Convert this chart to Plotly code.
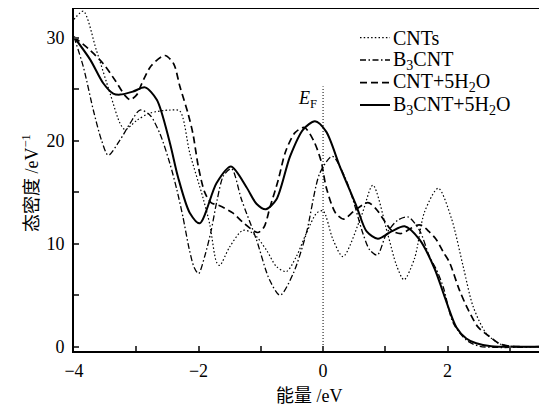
import plotly.graph_objects as go

# ---- data ----
cnts_x = [-4.0, -3.85, -3.64, -3.42, -3.26, -3.18, -2.99, -2.78, -2.46, -2.3, -2.14, -1.93, -1.82,
          -1.71, -1.66, -1.5, -1.29, -1.12, -0.91, -0.75, -0.59, -0.43, -0.27, -0.1, 0.0, 0.16,
          0.32, 0.62, 0.8, 1.04, 1.18, 1.3, 1.47, 1.63, 1.85, 2.06, 2.25, 2.41, 2.62, 2.83, 3.0, 3.5]
cnts_y = [31.8, 32.6, 28.8, 24.6, 21.7, 21.1, 22.0, 22.7, 23.0, 22.9, 18.8, 14.5, 11.9,
          8.2, 7.9, 9.7, 11.3, 11.0, 9.4, 7.8, 7.3, 8.75, 11.0, 13.0, 13.2, 10.4,
          8.75, 12.8, 15.7, 10.9, 7.9, 6.5, 8.6, 13.1, 15.4, 12.5, 7.8, 3.9, 1.3, 0.3, 0.05, 0.0]

b3_x = [-4.0, -3.85, -3.69, -3.56, -3.45, -3.26, -3.10, -2.94, -2.78, -2.62, -2.46, -2.35, -2.25,
        -2.15, -2.07, -2.0, -1.9, -1.8, -1.7, -1.6, -1.47, -1.31, -1.07, -0.86, -0.69, -0.48,
        -0.27, -0.05, 0.15, 0.35, 0.48, 0.64, 0.75, 0.87, 1.02, 1.2, 1.37, 1.55, 1.71, 1.82,
        1.93, 2.09, 2.3, 2.51, 3.5]
b3_y = [30.1, 27.2, 23.0, 20.1, 18.6, 20.1, 21.7, 23.0, 22.5, 20.7, 17.8, 15.3, 12.6,
        9.5, 7.7, 7.1, 8.8, 11.2, 14.3, 16.6, 17.3, 14.3, 10.4, 6.5, 5.0, 7.1,
        11.0, 16.9, 18.5, 16.5, 14.3, 11.0, 9.4, 8.9, 11.0, 12.3, 12.6, 11.3, 8.75, 7.5,
        5.8, 2.3, 0.65, 0.05, 0.0]

cw_x = [-4.0, -3.74, -3.53, -3.33, -3.18, -3.1, -2.99, -2.91, -2.76, -2.54, -2.4, -2.3, -2.17,
        -2.09, -2.0, -1.9, -1.8, -1.66, -1.45, -1.29, -1.05, -0.95, -0.85, -0.72, -0.6, -0.45,
        -0.3, -0.15, -0.03, 0.05, 0.2, 0.33, 0.5, 0.72, 0.85, 1.0, 1.1, 1.25, 1.5, 1.58, 1.7,
        1.82, 1.93, 2.03, 2.19, 2.33, 2.49, 2.67, 2.83, 3.0, 3.5]
cw_y = [30.1, 28.8, 27.5, 25.8, 24.4, 24.0, 24.5, 25.6, 27.3, 28.3, 27.5, 25.3, 22.7,
        20.7, 17.4, 15.0, 14.0, 13.7, 13.0, 12.1, 11.1, 11.6, 13.6, 16.2, 19.0, 20.8,
        21.3, 20.0, 18.0, 15.5, 13.0, 12.4, 13.2, 14.0, 13.4, 12.1, 11.3, 11.0, 11.8, 11.8, 11.2,
        10.4, 9.2, 8.2, 5.5, 3.6, 1.9, 1.0, 0.3, 0.05, 0.0]

bw_x = [-4.0, -3.74, -3.53, -3.37, -3.26, -3.05, -2.86, -2.67, -2.46, -2.33, -2.14, -1.98, -1.71,
        -1.48, -1.23, -1.07, -0.92, -0.75, -0.53, -0.32, -0.13, 0.05, 0.27, 0.54, 0.7, 0.88,
        1.1, 1.31, 1.55, 1.79, 1.95, 2.14, 2.3, 2.46, 2.7, 3.5]
bw_y = [30.1, 27.9, 25.6, 24.6, 24.5, 24.8, 25.2, 24.0, 19.8, 16.5, 13.0, 12.0, 15.9,
        17.5, 15.5, 13.9, 13.35, 14.3, 18.5, 21.1, 21.9, 20.9, 17.5, 13.6, 11.2, 10.5,
        11.2, 11.7, 10.4, 7.6, 4.9, 1.9, 0.8, 0.33, 0.05, 0.0]

names = ["CNTs", "B<sub>3</sub>CNT", "CNT+5H<sub>2</sub>O", "B<sub>3</sub>CNT+5H<sub>2</sub>O"]
x_title = "能量 /eV"
y_title = "态密度 /eV<sup>−1</sup>"
ef_label = "<i>E</i><sub>F</sub>"

FONT = "Liberation Serif, Noto Sans CJK SC, serif"

# The page body has an 8px default margin, so the figure is sized to fit the
# 547x411 window and all target positions are given in window pixels.
OFF = 8
W, H = 547 - OFF, 411 - OFF
PLOT_L, PLOT_R, PLOT_T, PLOT_B = 74, 541, 9, 351          # window pixels
L, R, T, B = PLOT_L - OFF, W - (PLOT_R - OFF), PLOT_T - OFF, H - (PLOT_B - OFF)
PW, PH = W - L - R, H - T - B

# data <-> window pixel mapping
Y0_PX, Y_PER = 346.7, 10.29
y_top = (Y0_PX - PLOT_T) / Y_PER
y_bot = (Y0_PX - PLOT_B) / Y_PER


def px_to_paper(px, py):
    return (px - OFF - L) / PW, (H - B - (py - OFF)) / PH


fig = go.Figure()
styles = [("1.5px,2.2px", 1.2), ("6px,2.5px,1.5px,2.5px", 1.3), ("7px,4px", 1.7), ("solid", 2.0)]
data = [(cnts_x, cnts_y), (b3_x, b3_y), (cw_x, cw_y), (bw_x, bw_y)]
for (xs, ys), nm, (dash, w) in zip(data, names, styles):
    fig.add_trace(go.Scatter(x=xs, y=ys, mode="lines", name=nm, showlegend=False,
                             line=dict(color="black", width=w, dash=dash,
                                       shape="spline", smoothing=0.8)))

# Fermi level marker
fig.add_trace(go.Scatter(x=[0, 0], y=[y_bot, 25.3], mode="lines", showlegend=False,
                         line=dict(color="black", width=1, dash="1px,2px")))

# hand-placed legend (line samples + labels)
row_py = [37.7, 60.0, 82.7, 105.0]
for nm, (dash, w), py in zip(names, styles, row_py):
    x0, y0 = px_to_paper(360, py)
    x1, _ = px_to_paper(390, py)
    fig.add_shape(type="line", xref="paper", yref="paper", x0=x0, x1=x1, y0=y0, y1=y0,
                  line=dict(color="black", width=w, dash=dash))
    tx, ty = px_to_paper(391, py)
    fig.add_annotation(text=nm, xref="paper", yref="paper", x=tx, y=ty,
                       xanchor="left", yanchor="middle", showarrow=False,
                       font=dict(size=20, family=FONT))

fig.update_layout(
    width=W, height=H,
    margin=dict(l=L, r=R, t=T, b=B, pad=0),
    paper_bgcolor="white", plot_bgcolor="white",
    font=dict(family=FONT, size=17, color="black"),
    showlegend=False,
    xaxis=dict(range=[-4, 3.5], dtick=2, tick0=-4, ticks="inside", ticklen=5, tickwidth=1.5,
               showline=True, linewidth=1.8, linecolor="black", mirror=True,
               showgrid=False, zeroline=False, ticklabelstandoff=2, automargin=False,
               minor=dict(dtick=1, tick0=-4, ticks="inside", ticklen=5, tickwidth=1.5,
                          showgrid=False),
               tickfont=dict(size=18)),
    yaxis=dict(range=[y_bot, y_top], dtick=10, tick0=0, ticks="inside", ticklen=5, tickwidth=1.5,
               showline=True, linewidth=1.8, linecolor="black", mirror=True,
               showgrid=False, zeroline=False, ticklabelstandoff=4, automargin=False,
               minor=dict(dtick=5, tick0=0, ticks="inside", ticklen=5, tickwidth=1.5,
                          showgrid=False),
               tickfont=dict(size=18)),
)

tx, ty = px_to_paper(309, 396)
fig.add_annotation(text=x_title, xref="paper", yref="paper", x=tx, y=ty,
                   xanchor="center", yanchor="middle", showarrow=False,
                   font=dict(size=18, family=FONT))
tx, ty = px_to_paper(30, 183)
fig.add_annotation(text=y_title, xref="paper", yref="paper", x=tx, y=ty,
                   xanchor="center", yanchor="middle", showarrow=False, textangle=-90,
                   font=dict(size=18, family=FONT))
fig.add_annotation(text=ef_label, xref="x", yref="y", x=-0.07, y=24.0,
                   xanchor="right", yanchor="middle", showarrow=False,
                   font=dict(size=18, family=FONT))

fig.write_html("out.html")
